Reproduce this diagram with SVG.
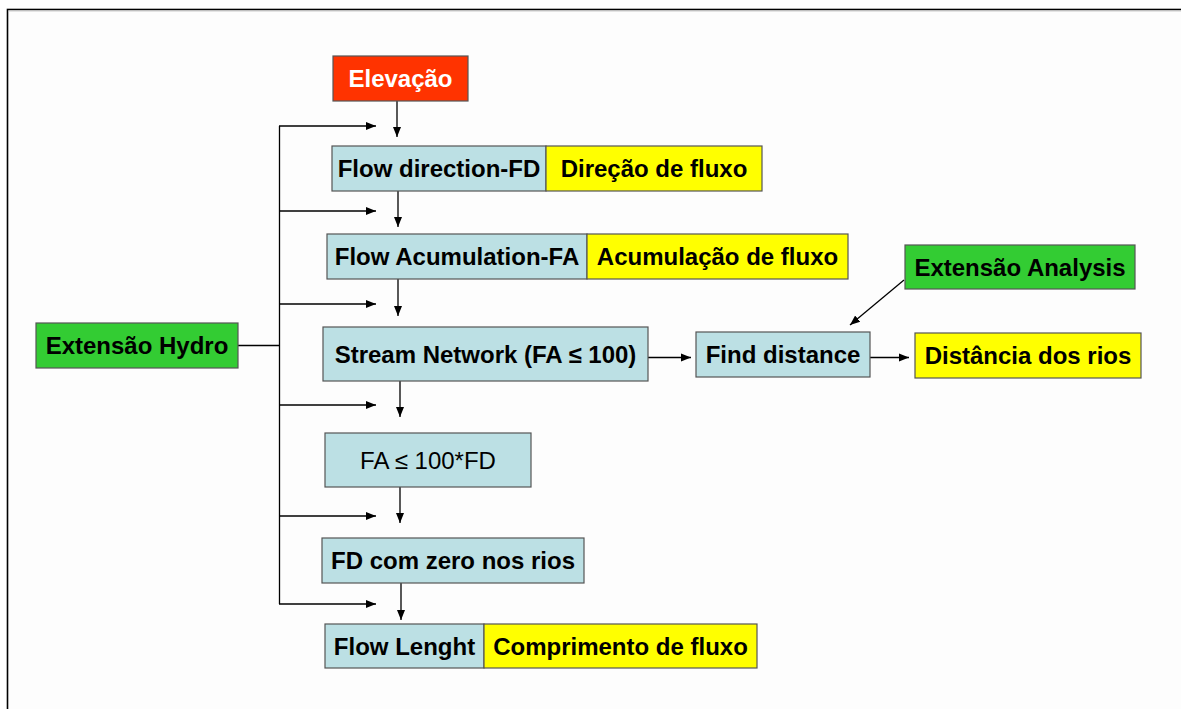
<svg xmlns="http://www.w3.org/2000/svg" width="1181" height="709" viewBox="0 0 1181 709">
  <defs>
    <marker id="arr" markerUnits="userSpaceOnUse" markerWidth="10" markerHeight="10" viewBox="0 0 10 10" refX="10" refY="5" orient="auto">
      <path d="M0,1 L10,5 L0,9 Z" fill="#000"/>
    </marker>
    <style>
      .box { stroke: #555; stroke-width: 1.2; }
      .blue { fill: #BCE0E4; }
      .yellow { fill: #FFFF00; }
      .green { fill: #33CC33; }
      .red { fill: #FF3300; }
      .t { font-family: "Liberation Sans", Arial, sans-serif; font-size: 24px; font-weight: bold; fill: #000; text-anchor: middle; }
      .w { fill: #fff; }
      .n { font-weight: normal; }
      .c { stroke: #000; stroke-width: 1.3; fill: none; }
    </style>
  </defs>
  <rect x="0" y="0" width="1181" height="709" fill="#fff"/>
  <rect x="7.5" y="9.5" width="1200" height="720" fill="#fdfdfd" stroke="#000" stroke-width="1.6"/>
  <line x1="8.5" y1="11" x2="1181" y2="11" stroke="#ccc" stroke-width="1"/>

  <g id="connectors">
    <line class="c" x1="397" y1="101" x2="397" y2="137" marker-end="url(#arr)"/>
    <line class="c" x1="398" y1="191" x2="398" y2="227" marker-end="url(#arr)"/>
    <line class="c" x1="398" y1="279" x2="398" y2="316" marker-end="url(#arr)"/>
    <line class="c" x1="400" y1="381" x2="400" y2="417" marker-end="url(#arr)"/>
    <line class="c" x1="400" y1="487" x2="400" y2="523" marker-end="url(#arr)"/>
    <line class="c" x1="401" y1="583" x2="401" y2="620" marker-end="url(#arr)"/>
    <line class="c" x1="238" y1="345.5" x2="279.5" y2="345.5"/>
    <line class="c" x1="279.5" y1="126" x2="279.5" y2="604"/>
    <line class="c" x1="279" y1="126" x2="376" y2="126" marker-end="url(#arr)"/>
    <line class="c" x1="279" y1="211" x2="376" y2="211" marker-end="url(#arr)"/>
    <line class="c" x1="279" y1="304" x2="376" y2="304" marker-end="url(#arr)"/>
    <line class="c" x1="279" y1="405" x2="376" y2="405" marker-end="url(#arr)"/>
    <line class="c" x1="279" y1="516" x2="376" y2="516" marker-end="url(#arr)"/>
    <line class="c" x1="279" y1="604" x2="376" y2="604" marker-end="url(#arr)"/>
    <line class="c" x1="648" y1="357.5" x2="691" y2="357.5" marker-end="url(#arr)"/>
    <line class="c" x1="870" y1="357.5" x2="909" y2="357.5" marker-end="url(#arr)"/>
    <line class="c" x1="904" y1="280" x2="850" y2="325" marker-end="url(#arr)"/>
  </g>

  <g id="elevacao">
    <rect class="box red" x="333" y="56" width="135" height="45"/>
    <text class="t w" x="400.5" y="86.5">Elevação</text>
  </g>
  <g id="flow-direction">
    <rect class="box blue" x="332" y="146" width="214" height="45"/>
    <text class="t" x="439" y="177">Flow direction-FD</text>
  </g>
  <g id="direcao-fluxo">
    <rect class="box yellow" x="546" y="146" width="216" height="45"/>
    <text class="t" x="654" y="177">Direção de fluxo</text>
  </g>
  <g id="flow-acumulation">
    <rect class="box blue" x="327" y="234" width="260" height="45"/>
    <text class="t" x="457" y="265">Flow Acumulation-FA</text>
  </g>
  <g id="acumulacao-fluxo">
    <rect class="box yellow" x="587" y="234" width="261" height="45"/>
    <text class="t" x="717.5" y="265">Acumulação de fluxo</text>
  </g>
  <g id="extensao-analysis">
    <rect class="box green" x="905" y="245" width="230" height="44"/>
    <text class="t" x="1020" y="275.5">Extensão Analysis</text>
  </g>
  <g id="extensao-hydro">
    <rect class="box green" x="36" y="323" width="202" height="45"/>
    <text class="t" x="137" y="354">Extensão Hydro</text>
  </g>
  <g id="stream-network">
    <rect class="box blue" x="323" y="327" width="325" height="54"/>
    <text class="t" x="485.5" y="362.5">Stream Network (FA ≤ 100)</text>
  </g>
  <g id="find-distance">
    <rect class="box blue" x="696" y="332" width="174" height="45"/>
    <text class="t" x="783" y="363">Find distance</text>
  </g>
  <g id="distancia-rios">
    <rect class="box yellow" x="915" y="333" width="226" height="45"/>
    <text class="t" x="1028" y="363.5">Distância dos rios</text>
  </g>
  <g id="fa-100-fd">
    <rect class="box blue" x="325" y="433" width="206" height="54"/>
    <text class="t n" x="428" y="468.5">FA ≤ 100*FD</text>
  </g>
  <g id="fd-zero">
    <rect class="box blue" x="322" y="538" width="262" height="45"/>
    <text class="t" x="453" y="569">FD com zero nos rios</text>
  </g>
  <g id="flow-lenght">
    <rect class="box blue" x="325" y="624" width="159" height="44"/>
    <text class="t" x="404.5" y="654.5">Flow Lenght</text>
  </g>
  <g id="comprimento-fluxo">
    <rect class="box yellow" x="484" y="624" width="273" height="44"/>
    <text class="t" x="620.5" y="654.5">Comprimento de fluxo</text>
  </g>
</svg>
